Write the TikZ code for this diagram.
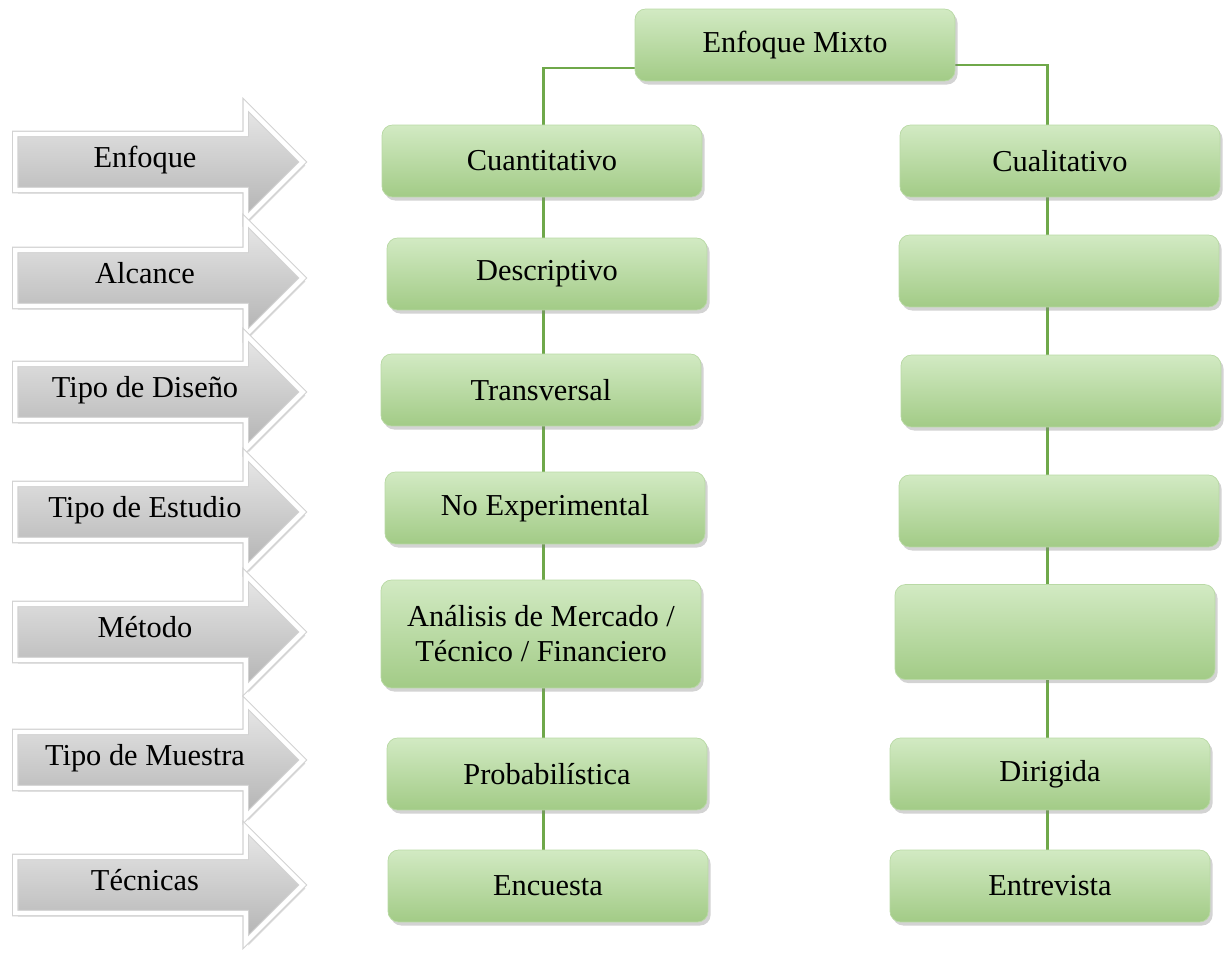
\documentclass[tikz,border=0pt]{standalone}
\usepackage{fontspec}
\setmainfont{Liberation Serif}
\usetikzlibrary{shapes.arrows, shadows, backgrounds}
\definecolor{boxtop}{HTML}{D2EAC3}
\definecolor{boxbot}{HTML}{A2CB86}
\definecolor{boxrim}{HTML}{B9D9A5}
\definecolor{linegreen}{HTML}{6FA84A}
\tikzset{box/.style={rectangle,draw=boxrim,rounded corners=6pt,align=center,top color=boxtop,bottom color=boxbot,minimum width=6.4cm,minimum height=1.44cm,font=\fontsize{17.3}{20}\selectfont,drop shadow={opacity=0.35,shadow xshift=1.5pt,shadow yshift=-2pt}},
  tag/.style={single arrow,draw=gray!35,line width=0.6pt,double=white,double distance=2.5pt,top color=gray!18,bottom color=gray!60,single arrow head extend=0.58cm,minimum height=5.75cm,text height=0.3cm,text depth=0.08cm,inner ysep=0.36cm,inner xsep=0pt,font=\fontsize{17.3}{20}\selectfont,drop shadow={opacity=0.3,shadow xshift=1.5pt,shadow yshift=-2pt}},
  line/.style={draw=linegreen,line width=1.6pt}}

\begin{document}
\begin{tikzpicture}[x=0.02cm,y=-0.02cm]
\useasboundingbox (0,0) rectangle (1225,953);
% row labels
\foreach \name/\y/\txt in {t1/162/Enfoque,t2/278/Alcance,t3/392/Tipo de Diseño,t4/512/Tipo de Estudio,t5/632/Método,t6/760/Tipo de Muestra,t7/885/Técnicas}
  \node[tag] (\name) at (145,\y) {\txt};
% boxes
\node[box] (mixto) at (795,45) {Enfoque Mixto};
\node[box] (cuant) at (542,161) {Cuantitativo};
\node[box] (desc) at (547,274) {Descriptivo};
\node[box] (trans) at (541,390) {Transversal};
\node[box] (noexp) at (545,508) {No Experimental};
\node[box, minimum height=2.16cm] (anal) at (541,634) {Análisis de Mercado /\\Técnico / Financiero};
\node[box] (prob) at (547,774) {Probabilística};
\node[box] (enc) at (548,886) {Encuesta};
\node[box] (cual) at (1060,161) {Cualitativo};
\node[box] (r2) at (1059,271) {};
\node[box] (r3) at (1061,391) {};
\node[box] (r4) at (1059,511) {};
\node[box, minimum height=1.9cm] (r5) at (1055,632) {};
\node[box] (dir) at (1050,774) {Dirigida};
\node[box] (ent) at (1050,886) {Entrevista};
% connectors
\begin{scope}[on background layer]
\draw[line] ([yshift=-0.46cm]mixto.west) -| ([xshift=1pt]cuant.north);
\draw[line] ([yshift=-0.4cm]mixto.east) -| ([xshift=-7pt]cual.north);
\foreach \a/\b in {cuant/desc,desc/trans,trans/noexp,noexp/anal,anal/prob,prob/enc}
  \draw[line] ([xshift=1pt]\a.south -| cuant.north) -- ([xshift=1pt]\b.north -| cuant.north);
\foreach \a/\b in {cual/r2,r2/r3,r3/r4,r4/r5,r5/dir,dir/ent}
  \draw[line] ([xshift=-7pt]\a.south -| cual.north) -- ([xshift=-7pt]\b.north -| cual.north);
\end{scope}
\end{tikzpicture}
\end{document}
